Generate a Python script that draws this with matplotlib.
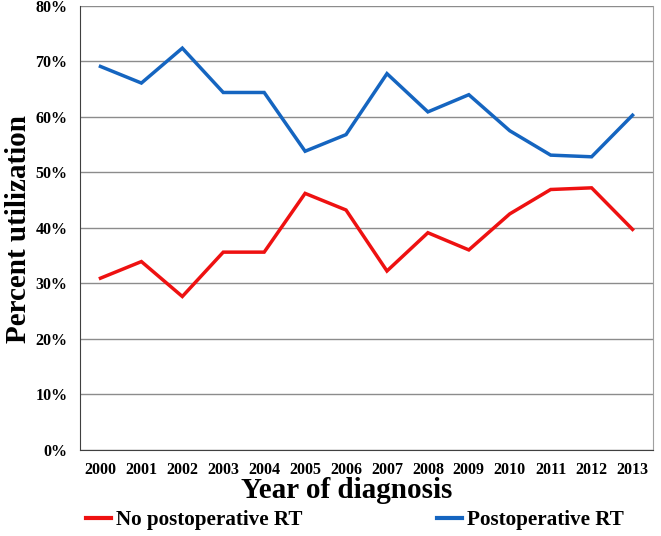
import matplotlib.pyplot as plt
from matplotlib.ticker import FuncFormatter

# Data
years = [2000, 2001, 2002, 2003, 2004, 2005, 2006, 2007, 2008, 2009, 2010, 2011, 2012, 2013]
postop_rt = [69.1, 66.1, 72.4, 64.4, 64.4, 53.8, 56.8, 67.8, 60.9, 64.0, 57.5, 53.1, 52.8, 60.3]
no_postop_rt = [30.9, 33.9, 27.6, 35.6, 35.6, 46.2, 43.2, 32.2, 39.1, 36.0, 42.5, 46.9, 47.2, 39.7]
yticks = [0, 10, 20, 30, 40, 50, 60, 70, 80]

plt.rcParams['font.family'] = ['Liberation Serif', 'DejaVu Serif']
plt.rcParams['font.weight'] = 'bold'

fig = plt.figure(figsize=(6.61, 5.36), dpi=100)
ax = fig.add_axes([80 / 661, 1 - 449.5 / 536, 573 / 661, 443.5 / 536])

x = list(range(len(years)))
ax.plot(x, no_postop_rt, color='#ee1111', lw=2.5, label='No postoperative RT', solid_joinstyle='miter')
ax.plot(x, postop_rt, color='#1565c0', lw=2.5, label='Postoperative RT', solid_joinstyle='miter')

ax.set_xlim(-0.5, len(years) - 0.5)
ax.set_ylim(0, 80)
ax.set_yticks(yticks)
ax.yaxis.set_major_formatter(FuncFormatter(lambda v, p: f'{int(v)}%'))
ax.set_xticks(x)
ax.set_xticklabels([str(y) for y in years])
ax.tick_params(axis='both', length=0, labelsize=11.5)
ax.tick_params(axis='x', pad=9)
ax.tick_params(axis='y', pad=9)
for lab in ax.get_xticklabels() + ax.get_yticklabels():
    lab.set_fontweight('bold')

ax.grid(axis='y', color='#8c8c8c', lw=1)
ax.set_axisbelow(True)
ax.spines['top'].set_visible(False)
ax.spines['right'].set_color('#a0a0a0')
ax.spines['left'].set_color('#404040')
ax.spines['bottom'].set_color('#404040')

fig.text(19 / 661, 1 - 229 / 536, 'Percent utilization', fontsize=21, fontweight='bold',
         rotation=90, ha='center', va='center')
fig.text(347 / 661, 1 - 491 / 536, 'Year of diagnosis', fontsize=21, fontweight='bold',
         ha='center', va='center')

leg = fig.legend(loc='center left', bbox_to_anchor=(86 / 661, 1 - 520 / 536), ncol=2,
                 frameon=False, fontsize=15.2, handlelength=1.2, handletextpad=0.2,
                 columnspacing=6.4, borderaxespad=0, borderpad=0)
for t in leg.get_texts():
    t.set_fontweight('bold')
for h in leg.get_lines():
    h.set_linewidth(3)

fig.savefig('out.png', dpi=100)
